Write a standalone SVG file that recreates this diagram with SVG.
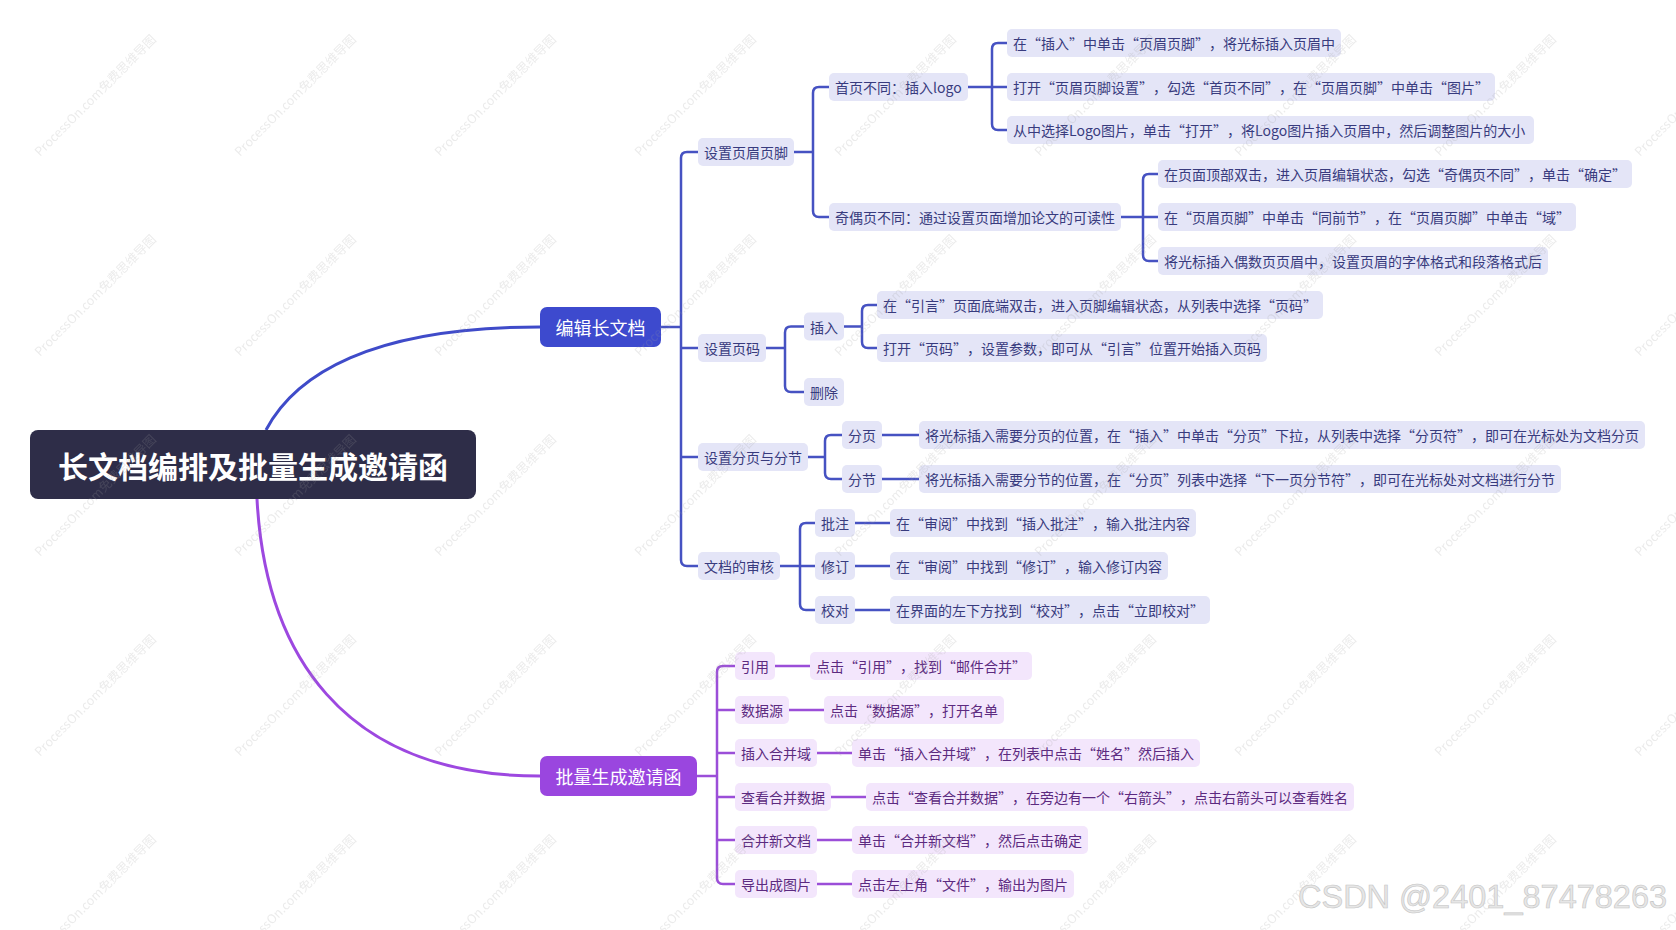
<svg xmlns="http://www.w3.org/2000/svg" width="1676" height="930" viewBox="0 0 1676 930">
<style>
text{font-family:"Noto Sans CJK SC","Noto Sans",sans-serif;dominant-baseline:central;text-spacing-trim:space-all;font-feature-settings:"chws" 0,"halt" 0}
.bn rect{fill:#e4e5f7}
.bn text{fill:#383b7e;font-size:14px}
.pn rect{fill:#f3e6fc}
.pn text{fill:#5c2a80;font-size:14px}
.lb{fill:none;stroke:#4652c2;stroke-width:2.5}
.lp{fill:none;stroke:#9b4ed8;stroke-width:2.5}
.cb{fill:none;stroke:#3f4bc9;stroke-width:3}
.cp{fill:none;stroke:#9d48e0;stroke-width:3}
.wm{font-size:12.5px;fill:#999;fill-opacity:.2;dominant-baseline:auto}
</style>
<defs>
<pattern id="wmp" x="0" y="0" width="200" height="200" patternUnits="userSpaceOnUse">
<text class="wm" x="40" y="157" transform="rotate(-45 40 157)">ProcessOn.com免费思维导图</text>
</pattern>
</defs>
<rect width="1676" height="930" fill="#fff"/>

<g id="connectors">
<path class="cb" d="M266 430 C295 375 370 327 540 327"/>
<path class="cp" d="M257 499 C265 650 340 776 540 776"/>
<path class="lb" d="M661 327 H681"/>
<path class="lb" d="M698 152 H687 Q681 152 681 158 V560 Q681 566 687 566 H698 M681 348 H698 M681 457 H698"/>
<path class="lb" d="M794 152 H813 M829 87 H819 Q813 87 813 93 V211 Q813 217 819 217 H829"/>
<path class="lb" d="M968 87 H992 M1007 43 H998 Q992 43 992 49 V124 Q992 130 998 130 H1007 M992 87 H1007"/>
<path class="lb" d="M1121 217 H1143 M1158 174 H1149 Q1143 174 1143 180 V255 Q1143 261 1149 261 H1158 M1143 217 H1158"/>
<path class="lb" d="M766 348 H785 M804 326.5 H791 Q785 326.5 785 332.5 V386 Q785 392 791 392 H804"/>
<path class="lb" d="M844 326.5 H862 M877 305 H868 Q862 305 862 311 V342 Q862 348 868 348 H877"/>
<path class="lb" d="M808 457 H825 M842 435 H831 Q825 435 825 441 V473 Q825 479 831 479 H842"/>
<path class="lb" d="M882 435 H919 M882 479 H919"/>
<path class="lb" d="M780 566 H800 M815 523 H806 Q800 523 800 529 V604 Q800 610 806 610 H815 M800 566 H815"/>
<path class="lb" d="M855 523 H890 M855 566 H890 M855 610 H890"/>
<path class="lp" d="M697 776 H717"/>
<path class="lp" d="M735 666 H723 Q717 666 717 672 V878 Q717 884 723 884 H735 M717 710 H735 M717 753 H735 M717 797 H735 M717 840 H735"/>
<path class="lp" d="M775 666 H810 M789 710 H824 M817 753 H852 M831 797 H866 M817 840 H852 M817 884 H852"/>
</g>

<g id="root"><rect x="30" y="430" width="446" height="69" rx="8" fill="#2e2d48"/><text x="253" y="465" text-anchor="middle" font-size="30" font-weight="bold" fill="#fff">长文档编排及批量生成邀请函</text></g>
<g id="edit"><rect x="540" y="307" width="121" height="40" rx="7" fill="#3d4ace"/><text x="600.5" y="327" text-anchor="middle" font-size="18" fill="#fff">编辑长文档</text></g>
<g id="batch"><rect x="540" y="756" width="157" height="40" rx="7" fill="#9a46df"/><text x="618.5" y="776" text-anchor="middle" font-size="18" fill="#fff">批量生成邀请函</text></g>

<g id="n-header" class="bn"><rect x="698" y="138" width="96" height="28" rx="5"/><text x="704" y="152">设置页眉页脚</text></g>
<g id="n-first" class="bn"><rect x="829" y="73" width="139" height="28" rx="5"/><text x="835" y="87">首页不同：插入logo</text></g>
<g id="n-oddeven" class="bn"><rect x="829" y="203" width="292" height="28" rx="5"/><text x="835" y="217">奇偶页不同：通过设置页面增加论文的可读性</text></g>
<g id="l0" class="bn"><rect x="1007" y="29" width="334" height="28" rx="5"/><text x="1013" y="43">在“插入”中单击“页眉页脚”，将光标插入页眉中</text></g>
<g id="l1" class="bn"><rect x="1007" y="73" width="488" height="28" rx="5"/><text x="1013" y="87">打开“页眉页脚设置”，勾选“首页不同”，在“页眉页脚”中单击“图片”</text></g>
<g id="l2" class="bn"><rect x="1007" y="116" width="527" height="28" rx="5"/><text x="1013" y="130">从中选择Logo图片，单击“打开”，将Logo图片插入页眉中，然后调整图片的大小</text></g>
<g id="l3" class="bn"><rect x="1158" y="160" width="474" height="28" rx="5"/><text x="1164" y="174">在页面顶部双击，进入页眉编辑状态，勾选“奇偶页不同”，单击“确定”</text></g>
<g id="l4" class="bn"><rect x="1158" y="203" width="418" height="28" rx="5"/><text x="1164" y="217">在“页眉页脚”中单击“同前节”，在“页眉页脚”中单击“域”</text></g>
<g id="l5" class="bn"><rect x="1158" y="247" width="390" height="28" rx="5"/><text x="1164" y="261">将光标插入偶数页页眉中，设置页眉的字体格式和段落格式后</text></g>

<g id="n-pagenum" class="bn"><rect x="698" y="334" width="68" height="28" rx="5"/><text x="704" y="348">设置页码</text></g>
<g id="n-insert" class="bn"><rect x="804" y="312.5" width="40" height="28" rx="5"/><text x="810" y="326.5">插入</text></g>
<g id="n-delete" class="bn"><rect x="804" y="378" width="40" height="28" rx="5"/><text x="810" y="392">删除</text></g>
<g id="l6" class="bn"><rect x="877" y="291" width="446" height="28" rx="5"/><text x="883" y="305">在“引言”页面底端双击，进入页脚编辑状态，从列表中选择“页码”</text></g>
<g id="l7" class="bn"><rect x="877" y="334" width="390" height="28" rx="5"/><text x="883" y="348">打开“页码”，设置参数，即可从“引言”位置开始插入页码</text></g>

<g id="n-break" class="bn"><rect x="698" y="443" width="110" height="28" rx="5"/><text x="704" y="457">设置分页与分节</text></g>
<g id="n-pb" class="bn"><rect x="842" y="421" width="40" height="28" rx="5"/><text x="848" y="435">分页</text></g>
<g id="n-sb" class="bn"><rect x="842" y="465" width="40" height="28" rx="5"/><text x="848" y="479">分节</text></g>
<g id="l8" class="bn"><rect x="919" y="421" width="726" height="28" rx="5"/><text x="925" y="435">将光标插入需要分页的位置，在“插入”中单击“分页”下拉，从列表中选择“分页符”，即可在光标处为文档分页</text></g>
<g id="l9" class="bn"><rect x="919" y="465" width="642" height="28" rx="5"/><text x="925" y="479">将光标插入需要分节的位置，在“分页”列表中选择“下一页分节符”，即可在光标处对文档进行分节</text></g>

<g id="n-review" class="bn"><rect x="698" y="552" width="82" height="28" rx="5"/><text x="704" y="566">文档的审核</text></g>
<g id="n-comment" class="bn"><rect x="815" y="509" width="40" height="28" rx="5"/><text x="821" y="523">批注</text></g>
<g id="n-revise" class="bn"><rect x="815" y="552" width="40" height="28" rx="5"/><text x="821" y="566">修订</text></g>
<g id="n-proof" class="bn"><rect x="815" y="596" width="40" height="28" rx="5"/><text x="821" y="610">校对</text></g>
<g id="l10" class="bn"><rect x="890" y="509" width="306" height="28" rx="5"/><text x="896" y="523">在“审阅”中找到“插入批注”，输入批注内容</text></g>
<g id="l11" class="bn"><rect x="890" y="552" width="278" height="28" rx="5"/><text x="896" y="566">在“审阅”中找到“修订”，输入修订内容</text></g>
<g id="l12" class="bn"><rect x="890" y="596" width="320" height="28" rx="5"/><text x="896" y="610">在界面的左下方找到“校对”，点击“立即校对”</text></g>

<g id="p-cite" class="pn"><rect x="735" y="652" width="40" height="28" rx="5"/><text x="741" y="666">引用</text></g>
<g id="p-src" class="pn"><rect x="735" y="696" width="54" height="28" rx="5"/><text x="741" y="710">数据源</text></g>
<g id="p-field" class="pn"><rect x="735" y="739" width="82" height="28" rx="5"/><text x="741" y="753">插入合并域</text></g>
<g id="p-view" class="pn"><rect x="735" y="783" width="96" height="28" rx="5"/><text x="741" y="797">查看合并数据</text></g>
<g id="p-merge" class="pn"><rect x="735" y="826" width="82" height="28" rx="5"/><text x="741" y="840">合并新文档</text></g>
<g id="p-export" class="pn"><rect x="735" y="870" width="82" height="28" rx="5"/><text x="741" y="884">导出成图片</text></g>
<g id="pl0" class="pn"><rect x="810" y="652" width="222" height="28" rx="5"/><text x="816" y="666">点击“引用”，找到“邮件合并”</text></g>
<g id="pl1" class="pn"><rect x="824" y="696" width="180" height="28" rx="5"/><text x="830" y="710">点击“数据源”，打开名单</text></g>
<g id="pl2" class="pn"><rect x="852" y="739" width="348" height="28" rx="5"/><text x="858" y="753">单击“插入合并域”，在列表中点击“姓名”然后插入</text></g>
<g id="pl3" class="pn"><rect x="866" y="783" width="488" height="28" rx="5"/><text x="872" y="797">点击“查看合并数据”，在旁边有一个“右箭头”，点击右箭头可以查看姓名</text></g>
<g id="pl4" class="pn"><rect x="852" y="826" width="236" height="28" rx="5"/><text x="858" y="840">单击“合并新文档”，然后点击确定</text></g>
<g id="pl5" class="pn"><rect x="852" y="870" width="222" height="28" rx="5"/><text x="858" y="884">点击左上角“文件”，输出为图片</text></g>

<rect width="1676" height="930" fill="url(#wmp)" pointer-events="none"/>
<text x="1298" y="908" font-size="32.5" fill="#e6e6e6" stroke="#c4c4c4" stroke-width="0.6" style="dominant-baseline:auto;font-family:'Liberation Sans',Arial,sans-serif">CSDN @2401_87478263</text>
</svg>
